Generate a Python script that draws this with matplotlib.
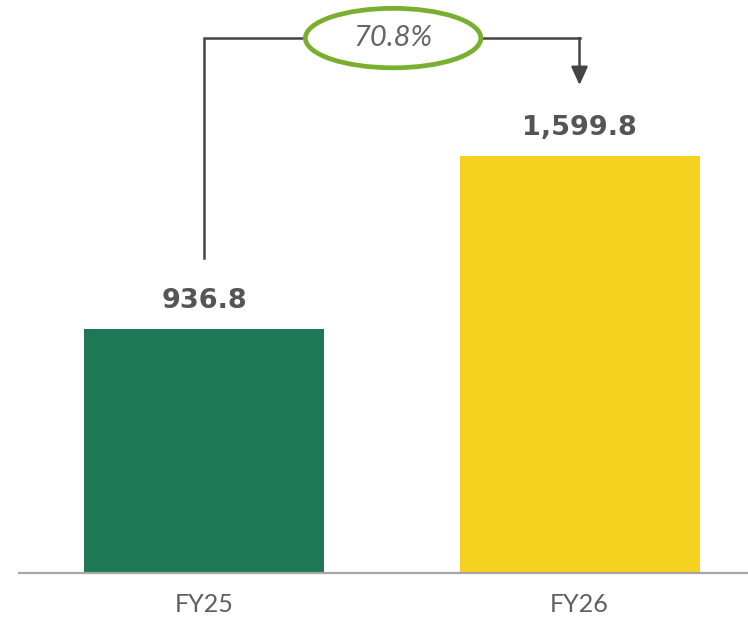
import matplotlib.pyplot as plt
from matplotlib.patches import Ellipse

# Data
years = ['FY25', 'FY26']
values = [936.8, 1599.8]
growth_label = '70.8%'
colors = ['#1d7855', '#f5d21f']

fig = plt.figure(figsize=(7.48, 6.19), dpi=100)
ax = fig.add_axes([0, 0, 1, 1])

x = list(range(len(years)))
ax.bar(x, values, width=0.64, color=colors, zorder=2)

ax.set_xlim(-0.5453, 1.4493)
ax.set_ylim(-176.4, 2197)
ax.axis('off')

# Baseline
ax.plot([-0.497, 1.4493], [0, 0], color='#a6a6a6', lw=1.6, zorder=3, solid_capstyle='butt')

# Value labels above the bars
for xi, v in zip(x, values):
    ax.annotate(f'{v:,.1f}', xy=(xi, v), xytext=(0, 15), textcoords='offset points',
                ha='center', va='baseline', fontsize=19.5, fontweight='heavy',
                color='#555555', family='DejaVu Sans')

# Category labels under the baseline
for xi, name in zip(x, years):
    ax.annotate(name, xy=(xi, 0), xytext=(0, -23), textcoords='offset points',
                ha='center', va='center', fontsize=18, color='#5f5f5f',
                family='Lato')

# Growth connector from FY25 to FY26
offset = 271
top = 2051
line_kw = dict(color='#444444', lw=1.8, zorder=3)
ax.plot([0, 0, 1], [values[0] + offset, top, top], solid_joinstyle='miter', **line_kw)
ax.annotate('', xy=(1, values[1] + offset), xytext=(1, top),
            arrowprops=dict(arrowstyle='-|>,head_length=0.55,head_width=0.25',
                            color='#444444', lw=1.8, mutation_scale=20,
                            shrinkA=0, shrinkB=0), zorder=3)

ell = Ellipse((0.503, top), width=0.468, height=228, facecolor='white',
              edgecolor='#79ae2e', lw=3.4, zorder=4)
ax.add_patch(ell)
ax.text(0.503, top, growth_label, ha='center', va='center', fontsize=21,
        style='italic', color='#666666', family='Lato', zorder=5)

fig.savefig('out.png', dpi=100)
